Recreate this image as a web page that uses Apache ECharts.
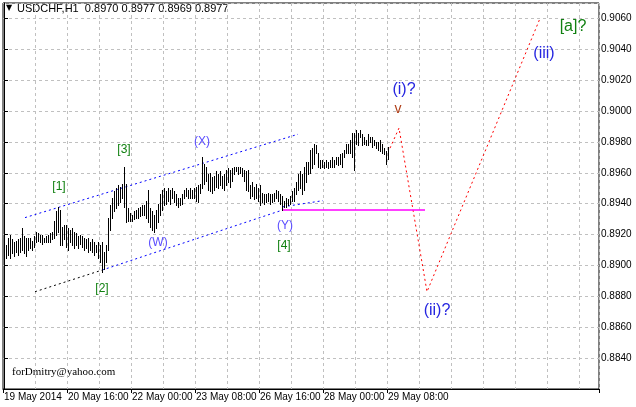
<!DOCTYPE html>
<html>
<head>
<meta charset="utf-8">
<script src="https://cdn.jsdelivr.net/npm/echarts@6/dist/echarts.min.js"></script>
<style>
  html, body { margin: 0; padding: 0; background: #fff; }
  #chart { width: 636px; height: 407px; }
</style>
</head>
<body>
<div id="chart"></div>
<script>
// USDCHF H1, one bar per hour starting 19 May 2014 08:00
var highs = [
  0.8917,0.8913,0.8918,0.8920,0.8917,0.8915,0.8916,0.8917,0.8918,0.8924,
  0.8919,0.8918,0.8918,0.8918,0.8916,0.8919,0.8922,0.8921,0.8920,0.8920,
  0.8918,0.8919,0.8920,0.8921,0.8922,0.8929,0.8935,0.8938,0.8936,0.8925,
  0.8926,0.8926,0.8924,0.8923,0.8924,0.8922,0.8921,0.8919,0.8920,0.8919,
  0.8918,0.8917,0.8918,0.8915,0.8917,0.8915,0.8913,0.8915,0.8913,0.8915,
  0.8909,0.8913,0.8931,0.8939,0.8944,0.8948,0.8950,0.8952,0.8951,0.8953,
  0.8964,0.8953,0.8937,0.8934,0.8933,0.8935,0.8936,0.8937,0.8938,0.8939,
  0.8939,0.8942,0.8949,0.8937,0.8935,0.8933,0.8936,0.8940,0.8946,0.8949,
  0.8950,0.8948,0.8950,0.8949,0.8950,0.8948,0.8946,0.8944,0.8944,0.8946,
  0.8949,0.8950,0.8949,0.8950,0.8949,0.8950,0.8951,0.8952,0.8953,0.8970,
  0.8966,0.8964,0.8959,0.8960,0.8957,0.8958,0.8961,0.8959,0.8961,0.8958,
  0.8959,0.8962,0.8963,0.8962,0.8963,0.8964,0.8964,0.8964,0.8964,0.8963,
  0.8962,0.8961,0.8962,0.8952,0.8954,0.8951,0.8953,0.8950,0.8952,0.8947,
  0.8946,0.8946,0.8947,0.8946,0.8946,0.8947,0.8949,0.8948,0.8946,0.8945,
  0.8942,0.8944,0.8943,0.8945,0.8948,0.8950,0.8954,0.8959,0.8961,0.8959,
  0.8964,0.8967,0.8967,0.8975,0.8976,0.8979,0.8978,0.8973,0.8968,0.8968,
  0.8967,0.8968,0.8967,0.8968,0.8970,0.8968,0.8970,0.8970,0.8972,0.8973,
  0.8975,0.8979,0.8979,0.8981,0.8986,0.8986,0.8988,0.8986,0.8988,0.8985,
  0.8983,0.8981,0.8985,0.8983,0.8983,0.8981,0.8980,0.8980,0.8981,0.8979,
  0.8976,0.8974,0.8977
];
var lows = [
  0.8902,0.8905,0.8907,0.8905,0.8908,0.8906,0.8909,0.8907,0.8909,0.8910,
  0.8908,0.8906,0.8910,0.8911,0.8910,0.8912,0.8915,0.8916,0.8915,0.8914,
  0.8915,0.8915,0.8915,0.8915,0.8917,0.8918,0.8920,0.8922,0.8913,0.8913,
  0.8917,0.8912,0.8910,0.8915,0.8913,0.8911,0.8913,0.8911,0.8914,0.8912,
  0.8910,0.8911,0.8909,0.8910,0.8909,0.8907,0.8909,0.8905,0.8902,0.8896,
  0.8898,0.8902,0.8910,0.8923,0.8931,0.8935,0.8937,0.8939,0.8941,0.8944,
  0.8938,0.8928,0.8929,0.8929,0.8929,0.8930,0.8931,0.8931,0.8932,0.8933,
  0.8933,0.8931,0.8928,0.8925,0.8923,0.8922,0.8924,0.8928,0.8933,0.8936,
  0.8939,0.8940,0.8942,0.8940,0.8944,0.8941,0.8939,0.8938,0.8939,0.8940,
  0.8944,0.8945,0.8944,0.8944,0.8944,0.8944,0.8942,0.8941,0.8947,0.8950,
  0.8953,0.8955,0.8949,0.8948,0.8947,0.8949,0.8951,0.8950,0.8952,0.8950,
  0.8949,0.8952,0.8954,0.8951,0.8955,0.8959,0.8961,0.8959,0.8960,0.8958,
  0.8955,0.8949,0.8948,0.8944,0.8945,0.8943,0.8944,0.8942,0.8939,0.8941,
  0.8940,0.8941,0.8942,0.8940,0.8941,0.8942,0.8944,0.8942,0.8940,0.8936,
  0.8938,0.8938,0.8939,0.8940,0.8942,0.8942,0.8946,0.8949,0.8950,0.8946,
  0.8949,0.8954,0.8959,0.8960,0.8963,0.8966,0.8973,0.8964,0.8963,0.8964,
  0.8963,0.8964,0.8963,0.8964,0.8964,0.8964,0.8966,0.8965,0.8966,0.8964,
  0.8970,0.8973,0.8973,0.8973,0.8970,0.8962,0.8979,0.8978,0.8983,0.8978,
  0.8979,0.8978,0.8978,0.8980,0.8977,0.8978,0.8976,0.8975,0.8974,0.8973,
  0.8972,0.8966,0.8969
];
var timeLabels = ['19 May 2014','20 May 16:00','22 May 00:00','23 May 08:00',
                  '26 May 16:00','28 May 00:00','29 May 08:00'];
var labelStep = 32;     // bars between time labels
var gridStep = 16;      // bars between vertical grid lines
var totalSlots = 298;   // bars + empty space for the projection

// wave mark-up, [bar index, price]
var upperChannel = [[10.5, 0.8931], [147, 0.8985]];
var lowerChannelA = [[15.5, 0.8883], [49, 0.8897]];
var lowerChannelB = [[49, 0.8897], [139.5, 0.8936]];
var lowerChannelC = [[139.5, 0.8938], [159.5, 0.8942]];
var projection = [[193, 0.8976], [197.5, 0.8989], [211.5, 0.8883], [268, 0.9060]];
var levelY = [[139.5, 0.8936], [210.5, 0.8936]];

var greenLabels = [['[1]', 27.5, 0.8951], ['[3]', 60, 0.8975], ['[2]', 49, 0.8885], ['[4]', 140, 0.8913]];
var wxyLabels = [['(W)', 77, 0.8915], ['(X)', 99, 0.8980], ['(Y)', 140.5, 0.8926]];
var bigBlueLabels = [['(i)?', 200, 0.9014], ['(ii)?', 216.5, 0.8871], ['(iii)', 270, 0.9037]];
var bigGreenLabels = [['[a]?', 284.5, 0.9055]];
var redLabels = [['v', 197, 0.9001]];

var slots = [];
for (var i = 0; i < totalSlots; i++) slots.push(String(i));

var axisFont = 'Liberation Sans, Arial';

function textItems(list, color, size){
  return list.map(function(d){
    return {
      value: [d[1], d[2]],
      label: { show: true, formatter: d[0], color: color, fontSize: size,
               fontFamily: 'Liberation Sans, Arial', position: 'inside' }
    };
  });
}

function dotted(data, color){
  return {
    type: 'line', xAxisIndex: 1, data: data, symbol: 'none', silent: true, z: 3,
    lineStyle: { color: color, width: 1, type: [2, 3] }
  };
}

var myChart = echarts.init(document.getElementById('chart'), null, { renderer: 'canvas' });

var option = {
  animation: false,
  backgroundColor: '#fff',
  grid: { left: 3, right: 37, top: 3, bottom: 18, show: true, borderColor: '#000', borderWidth: 1 },
  xAxis: [
    {
      type: 'category',
      data: slots,
      boundaryGap: true,
      axisLine: { show: true, lineStyle: { color: '#000' } },
      axisTick: {
        show: true, length: 4, lineStyle: { color: '#000' },
        interval: function(idx){ return idx < highs.length && idx % labelStep === 0; }
      },
      axisLabel: {
        interval: function(idx){ return idx < highs.length && idx % labelStep === 0; },
        formatter: function(v, idx){ return timeLabels[Math.round(idx / labelStep)] || ''; },
        align: 'left', margin: 3, color: '#000', fontSize: 10, fontFamily: axisFont
      },
      splitLine: {
        show: true,
        interval: function(idx){ return idx > 0 && idx % gridStep === 0; },
        lineStyle: { color: '#c0c0c0', type: [3, 3] }
      }
    },
    { type: 'value', min: -0.5, max: totalSlots - 0.5, show: false }
  ],
  yAxis: {
    type: 'value',
    position: 'right',
    min: 0.882, max: 0.907, interval: 0.002,
    axisLine: { show: true, lineStyle: { color: '#000' } },
    axisTick: { show: true, length: 4, lineStyle: { color: '#000' } },
    axisLabel: {
      showMinLabel: false, showMaxLabel: false,
      formatter: function(v){ return v.toFixed(4); },
      margin: 2, color: '#000', fontSize: 10, fontFamily: axisFont
    },
    splitLine: { show: true, lineStyle: { color: '#c0c0c0', type: [3, 3] } }
  },
  graphic: [
    { type: 'text', left: 6, top: 4,
      style: { text: '\u25BC', fill: '#000', font: '8px "DejaVu Sans"' } },
    { type: 'text', left: 17, top: 3,
      style: { text: 'USDCHF,H1  0.8970 0.8977 0.8969 0.8977', fill: '#000',
               font: '11px "Liberation Sans", Arial' } },
    { type: 'text', left: 12, top: 367,
      style: { text: 'forDmitry@yahoo.com', fill: '#000',
               font: '11px "Liberation Serif", "Times New Roman"' } }
  ],
  series: [
    {
      type: 'custom',
      xAxisIndex: 1,
      silent: true,
      z: 5,
      data: highs.map(function(h, i){ return [i, lows[i], h]; }),
      encode: { x: 0, y: [1, 2] },
      renderItem: function(params, api){
        var top = api.coord([api.value(0), api.value(2)]);
        var bot = api.coord([api.value(0), api.value(1)]);
        var x = Math.floor(top[0]) + 0.5;
        return {
          type: 'line',
          shape: { x1: x, y1: Math.round(top[1]), x2: x, y2: Math.round(bot[1]) + 1 },
          style: { stroke: '#000', lineWidth: 1 }
        };
      }
    },
    dotted(upperChannel, '#0000ff'),
    dotted(lowerChannelA, '#000000'),
    dotted(lowerChannelB, '#0000ff'),
    dotted(lowerChannelC, '#0000ff'),
    dotted(projection, '#ff0000'),
    {
      type: 'line', xAxisIndex: 1, data: levelY, symbol: 'none', silent: true, z: 3,
      lineStyle: { color: '#ff00ff', width: 1.5 }
    },
    {
      type: 'scatter', xAxisIndex: 1, symbolSize: 0, silent: true, z: 6,
      itemStyle: { opacity: 1 },
      data: [].concat(
        textItems(greenLabels, '#108010', 12),
        textItems(wxyLabels, '#5a4cff', 12),
        textItems(bigBlueLabels, '#2525e0', 16),
        textItems(bigGreenLabels, '#108010', 16),
        textItems(redLabels, '#b0401a', 14)
      )
    }
  ]
};

myChart.setOption(option);
</script>
</body>
</html>
